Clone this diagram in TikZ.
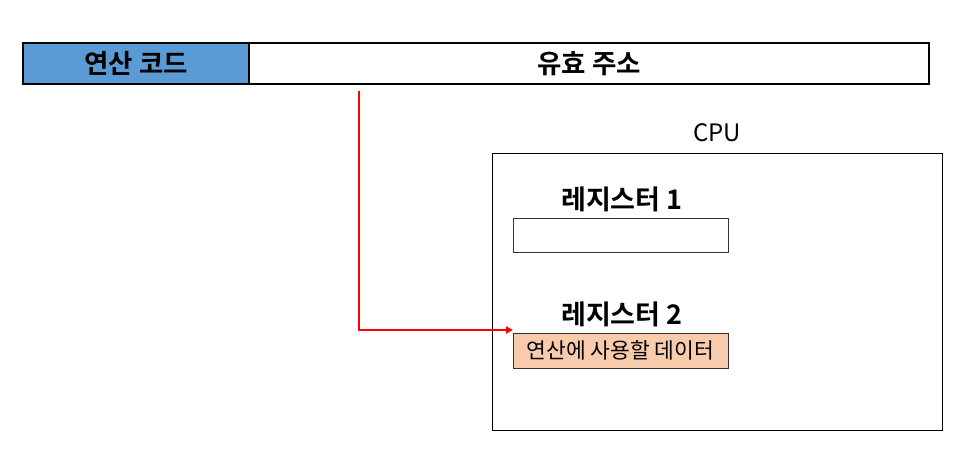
\documentclass[tikz,border=0pt]{standalone}
\usepackage{fontspec}
\newfontfamily\kr{Noto Sans CJK KR}
\newfontfamily\krb{Noto Sans CJK KR Bold}
\usetikzlibrary{arrows.meta}
\definecolor{opblue}{HTML}{5B9BD5}
\definecolor{peach}{HTML}{F8CBAD}
\tikzset{
  fieldbox/.style={draw=black, line width=1.2pt, inner sep=0pt, font=\krb\fontsize{26.5}{30}\selectfont},
  regbox/.style={draw=black!80, line width=0.8pt, inner sep=0pt, font=\kr\fontsize{21.5}{24}\selectfont},
  reglabel/.style={font=\krb\fontsize{27}{30}\selectfont, inner sep=0pt},
  redarrow/.style={draw=red, line width=2.6pt, -{Triangle[length=7pt,width=7pt]}}
}
\begin{document}
\begin{tikzpicture}[x=1pt,y=-1pt]
\useasboundingbox (0,0) rectangle (975,459);
\node[fieldbox, fill=opblue, minimum width=226pt, minimum height=41pt] (op) at (136,63.5) {연산 코드};
\node[fieldbox, fill=white, minimum width=680pt, minimum height=41pt] (ea) at (589,63.5) {유효 주소};
\node[draw=black, line width=0.8pt, minimum width=450pt, minimum height=277pt, inner sep=0pt] (cpu) at (717,291.5) {};
\node[font=\kr\fontsize{24}{26}\selectfont, inner sep=0pt] (cpulbl) at (717,133) {CPU};
\node[reglabel] (r1lbl) at (622,199) {레지스터 1};
\node[regbox, minimum width=215pt, minimum height=34pt] (r1) at (620.5,235) {};
\node[reglabel] (r2lbl) at (622,314) {레지스터 2};
\node[regbox, fill=peach, minimum width=215pt, minimum height=35pt] (r2) at (620.5,350.5) {연산에 사용할 데이터};
\coordinate (src) at (359,91);
\coordinate (dst) at (513,330);
\draw[redarrow] (src) |- (dst);
\end{tikzpicture}
\end{document}
